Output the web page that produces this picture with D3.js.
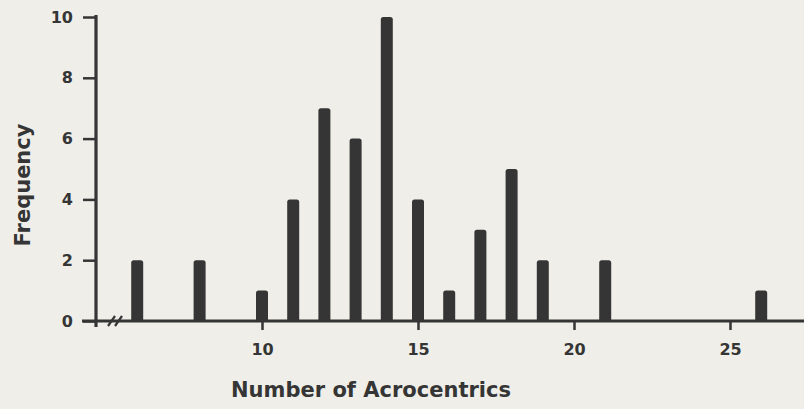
<!DOCTYPE html>
<html><head><meta charset="utf-8">
<script src="https://cdn.jsdelivr.net/npm/d3@7"></script>
<style>
html,body{margin:0;padding:0;background:#efeee9;}
svg{display:block;}
</style></head>
<body>
<svg id="c" width="804" height="409"></svg>
<script>
const counts = [6, 8, 10, 11, 12, 13, 14, 15, 16, 17, 18, 19, 21, 26];
const frequency = [2, 2, 1, 4, 7, 6, 10, 4, 1, 3, 5, 2, 2, 1];
const xTicks = [10, 15, 20, 25];
const yTicks = [0, 2, 4, 6, 8, 10];
const xTitle = "Number of Acrocentrics";
const yTitle = "Frequency";

const ink = "#353535";
const svg = d3.select("#c");
const x = d3.scaleLinear().domain([10, 25]).range([262, 730]);
const y = d3.scaleLinear().domain([0, 10]).range([321, 17]);
const axisX0 = 96;

// bars
const bw = 12;
svg.append("g").selectAll("path").data(counts.map((c,i)=>({c, f:frequency[i]})))
  .join("path")
  .attr("fill", ink)
  .attr("d", d => {
    const x0 = x(d.c) - bw/2, x1 = x(d.c) + bw/2, top = y(d.f), bot = y(0), r = 2.5;
    return `M${x0},${bot}L${x0},${top+r}Q${x0},${top} ${x0+r},${top}L${x1-r},${top}Q${x1},${top} ${x1},${top+r}L${x1},${bot}Z`;
  });

// y axis
const gy = svg.append("g").attr("transform", `translate(${axisX0},0)`)
  .call(d3.axisLeft(y).tickValues(yTicks).tickSize(13).tickPadding(10));
gy.select(".domain").remove();
gy.selectAll(".tick line").attr("stroke", ink).attr("stroke-width", 2.5);
gy.selectAll(".tick text").attr("fill", ink).attr("font-family", "DejaVu Sans, sans-serif")
  .attr("font-weight", "bold").attr("font-size", 16);
svg.append("line").attr("x1", axisX0).attr("x2", axisX0).attr("y1", y(10) - 2).attr("y2", y(0) + 6)
  .attr("stroke", ink).attr("stroke-width", 3.2);

// x axis
const gx = svg.append("g").attr("transform", `translate(0,${y(0)})`)
  .call(d3.axisBottom(x).tickValues(xTicks).tickSize(9).tickPadding(14));
gx.select(".domain").remove();
gx.selectAll(".tick line").attr("stroke", ink).attr("stroke-width", 2.5);
gx.selectAll(".tick text").attr("fill", ink).attr("font-family", "DejaVu Sans, sans-serif")
  .attr("font-weight", "bold").attr("font-size", 16);
svg.append("line").attr("x1", axisX0 - 14).attr("x2", 804).attr("y1", y(0)).attr("y2", y(0))
  .attr("stroke", ink).attr("stroke-width", 2.8);

// break marks
[0, 7].forEach(dx => {
  svg.append("line").attr("x1", 108 + dx).attr("y1", y(0) + 5).attr("x2", 115 + dx).attr("y2", y(0) - 5)
    .attr("stroke", ink).attr("stroke-width", 2.2);
});

// titles
svg.append("text").attr("x", 371).attr("y", 397).attr("text-anchor", "middle")
  .attr("fill", ink).attr("font-family", "DejaVu Sans, sans-serif").attr("font-weight", "bold")
  .attr("font-size", 21).text(xTitle);
svg.append("text").attr("transform", "translate(30,185) rotate(-90)").attr("text-anchor", "middle")
  .attr("fill", ink).attr("font-family", "DejaVu Sans, sans-serif").attr("font-weight", "bold")
  .attr("font-size", 21).text(yTitle);
</script>
</body></html>
